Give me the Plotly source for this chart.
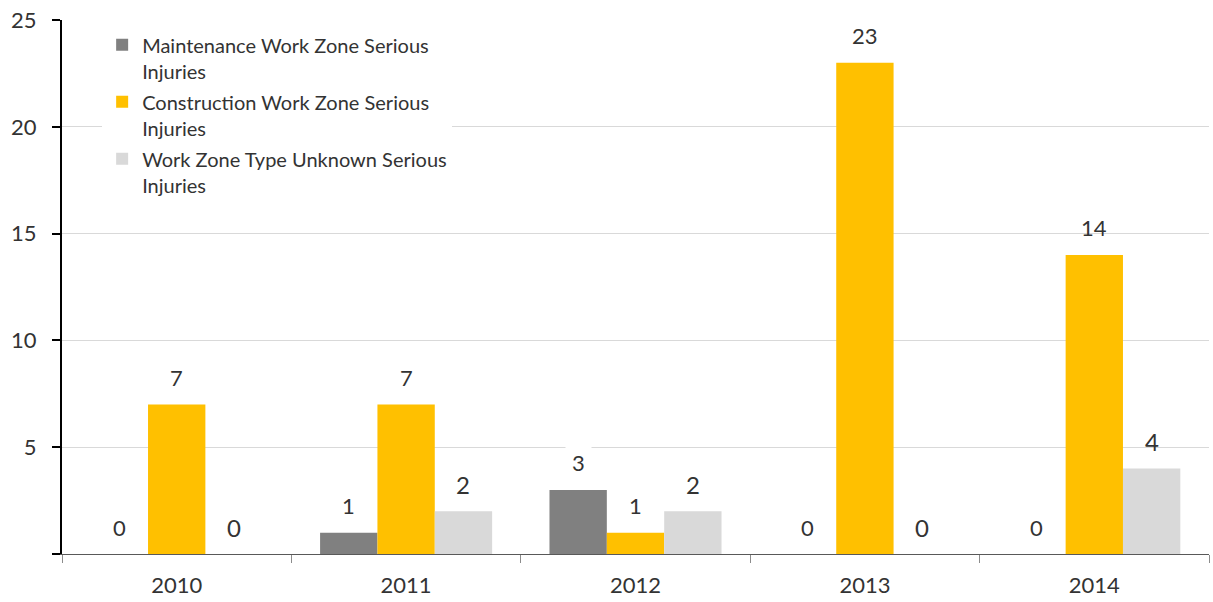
import plotly.graph_objects as go

years = ["2010", "2011", "2012", "2013", "2014"]
maintenance = [0, 1, 3, 0, 0]
construction = [7, 7, 1, 23, 14]
unknown = [0, 2, 2, 0, 4]

series_names = [
    "Maintenance Work Zone Serious<br>Injuries",
    "Construction Work Zone Serious<br>Injuries",
    "Work Zone Type Unknown Serious<br>Injuries",
]
series_values = [maintenance, construction, unknown]
series_colors = ["#808080", "#FFC000", "#D9D9D9"]
label_bg = ["white", "rgba(0,0,0,0)", "rgba(0,0,0,0)"]
label_size = [22, 22, 24]

FONT = "Lato, 'Open Sans', sans-serif"
TXT = "#333333"
BARGAP = 0.25

fig = go.Figure()
for k, (name, vals, col) in enumerate(zip(series_names, series_values, series_colors)):
    fig.add_trace(go.Bar(x=years, y=vals, name=name, legendgroup=f"g{k}",
                         marker=dict(color=col, line=dict(width=0))))

n = len(series_values)
w = (1 - BARGAP) / n
for k, vals in enumerate(series_values):
    for i, v in enumerate(vals):
        fig.add_annotation(
            x=i + (k - (n - 1) / 2) * w, y=v, xref="x", yref="y",
            text=str(v), showarrow=False, yanchor="middle", yshift=27,
            font=dict(family=FONT, size=label_size[k], color=TXT),
            bgcolor=label_bg[k], borderpad=6,
        )

fig.update_layout(
    width=1213, height=602,
    margin=dict(l=62, r=4, t=20, b=48, autoexpand=False),
    paper_bgcolor="white", plot_bgcolor="white",
    barmode="group", bargap=BARGAP, bargroupgap=0,
    font=dict(family=FONT, color=TXT),
    showlegend=True,
    legend=dict(
        x=0.035, y=0.99, xanchor="left", yanchor="top",
        bgcolor="white", font=dict(family=FONT, size=20, color=TXT),
        valign="top", tracegroupgap=2, itemwidth=30,
    ),
    xaxis=dict(
        type="category", showline=True, linecolor="#595959", linewidth=1,
        ticks="outside", tickson="boundaries", ticklen=8, tickcolor="#8c8c8c",
        tickfont=dict(family=FONT, size=22, color=TXT), ticklabelstandoff=12,
        showgrid=False, automargin=False, ticklabeloverflow="allow",
    ),
    yaxis=dict(
        range=[0, 25], tickvals=[0, 5, 10, 15, 20, 25],
        ticktext=["", "5", "10", "15", "20", "25"],
        showline=True, linecolor="black", linewidth=2,
        ticks="outside", ticklen=8, tickcolor="black", tickwidth=2,
        tickfont=dict(family=FONT, size=22, color=TXT), ticklabelstandoff=11,
        showgrid=True, gridcolor="#D9D9D9", gridwidth=1, zeroline=False,
        automargin=False, ticklabeloverflow="allow",
    ),
)

fig.write_html(
    "out.html",
    config={"displayModeBar": False},
    post_script="document.body.style.margin='0';document.body.style.overflow='hidden';",
)
